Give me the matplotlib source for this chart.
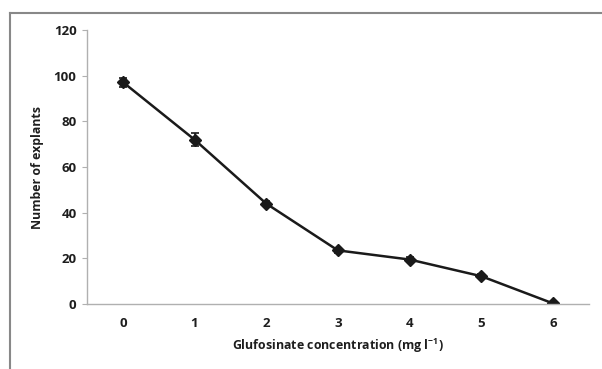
import matplotlib.pyplot as plt
from matplotlib.lines import Line2D

# Data
concentration = ['0', '1', '2', '3', '4', '5', '6']
explants = [97.2, 72.0, 44.0, 23.5, 19.5, 12.2, 0.3]
errors = [2.0, 3.0, 1.0, 1.0, 1.0, 1.0, 0.5]

plt.rcParams['font.family'] = ['Open Sans', 'DejaVu Sans']
plt.rcParams['mathtext.fontset'] = 'custom'
plt.rcParams['mathtext.rm'] = 'Open Sans:bold'

fig = plt.figure(figsize=(6.02, 3.69), dpi=100)
ax = fig.add_axes([0.1445, 0.176, 0.8335, 0.7427])

x = range(len(concentration))
ax.errorbar(x, explants, yerr=errors, color='#1a1a1a', marker='D', markersize=6.5,
            linewidth=1.8, elinewidth=1.2, capsize=3, capthick=1.2)

ax.set_xlim(-0.5, 6.5)
ax.set_ylim(0, 120)
ax.set_xticks(list(x))
ax.set_xticklabels(concentration)
ax.set_yticks(range(0, 121, 20))

for s in ['top', 'right']:
    ax.spines[s].set_visible(False)
for s in ['left', 'bottom']:
    ax.spines[s].set_color('#b0b0b0')
    ax.spines[s].set_linewidth(1.0)

ax.tick_params(axis='y', length=3.5, color='#b0b0b0', labelsize=9.5, pad=4)
ax.tick_params(axis='x', length=0, labelsize=9.5, pad=9)
for lbl in ax.get_xticklabels() + ax.get_yticklabels():
    lbl.set_fontweight('bold')
    lbl.set_color('#1e1e1e')

ax.set_xlabel('Glufosinate concentration (mg l$^{\\mathregular{-1}}$)', fontsize=8.9,
              fontweight='bold', labelpad=5, color='#1e1e1e')
ax.set_ylabel('Number of explants', fontsize=8.9, fontweight='bold', labelpad=7,
              color='#1e1e1e')

# outer chart border (cropped at right and bottom)
fig.add_artist(Line2D([10 / 602, 10 / 602], [0, 1 - 13 / 369], transform=fig.transFigure,
                      color='#888888', linewidth=1.5))
fig.add_artist(Line2D([10 / 602, 1], [1 - 13 / 369, 1 - 13 / 369], transform=fig.transFigure,
                      color='#888888', linewidth=1.5))

plt.savefig('out.png', dpi=100)
